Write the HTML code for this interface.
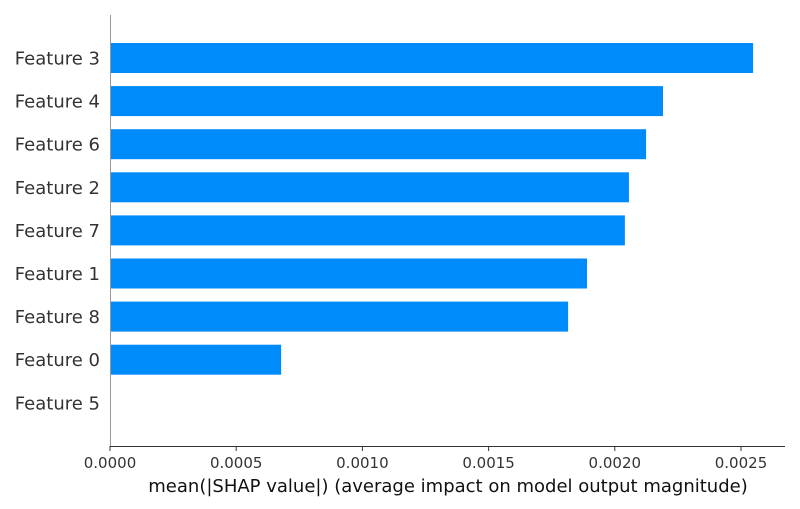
<!DOCTYPE html>
<html><head><meta charset="utf-8"><style>
html,body{margin:0;padding:0;background:#fff;}
svg{display:block;font-family:"DejaVu Sans","Liberation Sans",sans-serif;}
</style></head><body>
<svg id="chart" width="800" height="509"></svg>
<script>
const categories=["Feature 3","Feature 4","Feature 6","Feature 2","Feature 7","Feature 1","Feature 8","Feature 0","Feature 5"];
const values=[0.002548,0.002191,0.002124,0.002056,0.002040,0.00189,0.001815,0.000678,0];
const tickValues=[0,0.0005,0.001,0.0015,0.002,0.0025];
const tickLabels=["0.0000","0.0005","0.0010","0.0015","0.0020","0.0025"];
const NS="http://www.w3.org/2000/svg";
const svg=document.getElementById('chart');
const x0=110,pxPer=252400;
const xs=v=>x0+v*pxPer;
const ys=i=>58+i*43.1;
function mk(t,a,parent){const e=document.createElementNS(NS,t);for(const k in a)e.setAttribute(k,a[k]);(parent||svg).appendChild(e);return e;}
categories.forEach((c,i)=>{
  const w=xs(values[i])-x0;
  if(w>0){
    const r=mk('rect',{x:x0,y:ys(i)-15,width:w,height:30,fill:'#008bfb'});
    
    
  }
  const t=mk('text',{x:100,y:ys(i)+6.5,'text-anchor':'end','font-size':'18',fill:'#333'});
  t.textContent=c;
  
  
});
const ly=mk('line',{x1:110.5,y1:15,x2:110.5,y2:446,stroke:'#999','stroke-width':1});


const lx=mk('line',{x1:110,y1:446.5,x2:785,y2:446.5,stroke:'#333','stroke-width':1});


tickValues.forEach((v,i)=>{
  const x=xs(v);
  const tk=mk('line',{x1:x,y1:446,x2:x,y2:451,stroke:'#333'});
  
  
  const t=mk('text',{x:x,y:468,'text-anchor':'middle','font-size':'15',fill:'#333'});
  t.textContent=tickLabels[i];
  
  
});
const xt=mk('text',{x:448,y:492,'text-anchor':'middle','font-size':'18',fill:'#111'});
xt.textContent="mean(|SHAP value|) (average impact on model output magnitude)";


</script>
</body></html>
